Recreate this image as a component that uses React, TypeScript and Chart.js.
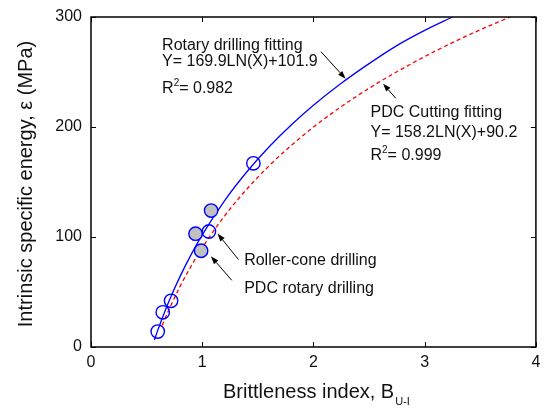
import React, { useEffect, useRef } from 'react';
import { Chart, registerables } from 'chart.js';

Chart.register(...registerables);

// ---- data ----
const xTickValues = [0, 1, 2, 3, 4];
const yTickValues = [0, 100, 200, 300];

// Roller-cone drilling (open circles)
const rollerConeX = [0.6, 0.645, 0.72, 1.06, 1.46];
const rollerConeY = [14, 31.5, 42, 105, 167];
// PDC rotary drilling (filled circles)
const pdcRotaryX = [0.94, 0.99, 1.08];
const pdcRotaryY = [103, 87.5, 124];

// Rotary drilling fitting curve
const rotaryFitX = [0.57, 0.6, 0.7, 0.8, 0.9, 1.0, 1.2, 1.4, 1.6, 1.8, 2.0, 2.25, 2.5, 2.75, 3.0, 3.25];
const rotaryFitY = [6.4, 15.1, 41.3, 64.0, 84.0, 101.9, 132.9, 159.1, 181.8, 201.8, 219.7, 239.7, 257.6, 274.0, 287.8, 300];
// PDC cutting fitting curve
const pdcFitX = [0.64, 0.7, 0.8, 0.9, 1.0, 1.2, 1.4, 1.6, 1.8, 2.0, 2.25, 2.5, 2.75, 3.0, 3.25, 3.5, 3.77];
const pdcFitY = [19.6, 33.8, 54.9, 73.5, 90.2, 119.0, 143.4, 164.6, 183.2, 199.9, 218.5, 235.2, 250.2, 264.0, 276.7, 288.4, 300];

const xTitle = 'Brittleness index, B';
const xTitleSub = 'U-I';
const yTitle = 'Intrinsic specific energy, \u03b5 (MPa)';

// ---- annotations (data coordinates) ----
type Part = { t: string; sup?: boolean };
const textNotes: { x: number; y: number; parts: Part[] }[] = [
  { x: 0.639, y: 270.4, parts: [{ t: 'Rotary drilling fitting' }] },
  { x: 0.639, y: 255.1, parts: [{ t: 'Y= 169.9LN(X)+101.9' }] },
  { x: 0.639, y: 231.0, parts: [{ t: 'R' }, { t: '2', sup: true }, { t: '= 0.982' }] },
  { x: 2.513, y: 209.0, parts: [{ t: 'PDC Cutting fitting' }] },
  { x: 2.513, y: 190.8, parts: [{ t: 'Y= 158.2LN(X)+90.2' }] },
  { x: 2.513, y: 170.1, parts: [{ t: 'R' }, { t: '2', sup: true }, { t: '= 0.999' }] },
  { x: 1.377, y: 74.3, parts: [{ t: 'Roller-cone drilling' }] },
  { x: 1.377, y: 49.1, parts: [{ t: 'PDC rotary drilling' }] },
];
const arrowNotes = [
  { x1: 2.067, y1: 268.5, x2: 2.289, y2: 243.9 },
  { x1: 2.74, y1: 226.1, x2: 2.626, y2: 239.4 },
  { x1: 1.326, y1: 79.5, x2: 1.137, y2: 103.2 },
  { x1: 1.266, y1: 60.6, x2: 1.078, y2: 82.5 },
];

const FONT = "'Liberation Sans', Arial, Helvetica, sans-serif";
const BLUE = '#0000ff';
const RED = '#ff0000';
const TEXT = '#111111';

const toPts = (xs: number[], ys: number[]) => xs.map((v, i) => ({ x: v, y: ys[i] }));

const overlayPlugin = {
  id: 'overlay',
  afterDraw(chart: any) {
    const { ctx, chartArea: a } = chart;
    const xs = chart.scales.x;
    const ys = chart.scales.y;
    ctx.save();
    // frame
    ctx.strokeStyle = '#000';
    ctx.lineWidth = 1.5;
    ctx.strokeRect(a.left, a.top, a.right - a.left, a.bottom - a.top);
    // inward ticks on all sides
    ctx.lineWidth = 1;
    ctx.beginPath();
    for (const v of xTickValues) {
      const px = Math.round(xs.getPixelForValue(v)) + 0.5;
      ctx.moveTo(px, a.bottom);
      ctx.lineTo(px, a.bottom - 5);
      ctx.moveTo(px, a.top);
      ctx.lineTo(px, a.top + 5);
    }
    for (const v of yTickValues) {
      const py = Math.round(ys.getPixelForValue(v)) + 0.5;
      ctx.moveTo(a.left, py);
      ctx.lineTo(a.left + 5, py);
      ctx.moveTo(a.right, py);
      ctx.lineTo(a.right - 5, py);
    }
    ctx.stroke();

    // text notes
    ctx.fillStyle = TEXT;
    ctx.textBaseline = 'alphabetic';
    ctx.textAlign = 'left';
    for (const n of textNotes) {
      let px = xs.getPixelForValue(n.x);
      const py = ys.getPixelForValue(n.y);
      for (const p of n.parts) {
        if (p.sup) {
          ctx.font = `10px ${FONT}`;
          ctx.fillText(p.t, px, py - 7);
        } else {
          ctx.font = `16px ${FONT}`;
          ctx.fillText(p.t, px, py);
        }
        px += ctx.measureText(p.t).width;
      }
    }

    // arrows
    ctx.strokeStyle = '#000';
    ctx.fillStyle = '#000';
    ctx.lineWidth = 1;
    for (const ar of arrowNotes) {
      const x1 = xs.getPixelForValue(ar.x1);
      const y1 = ys.getPixelForValue(ar.y1);
      const x2 = xs.getPixelForValue(ar.x2);
      const y2 = ys.getPixelForValue(ar.y2);
      const ang = Math.atan2(y2 - y1, x2 - x1);
      const len = 8;
      const hw = 2.8;
      const bx = x2 - len * Math.cos(ang);
      const by = y2 - len * Math.sin(ang);
      ctx.beginPath();
      ctx.moveTo(x1, y1);
      ctx.lineTo(bx, by);
      ctx.stroke();
      ctx.beginPath();
      ctx.moveTo(x2, y2);
      ctx.lineTo(bx + hw * Math.sin(ang), by - hw * Math.cos(ang));
      ctx.lineTo(bx - hw * Math.sin(ang), by + hw * Math.cos(ang));
      ctx.closePath();
      ctx.fill();
    }

    // axis titles
    ctx.fillStyle = TEXT;
    ctx.font = `20px ${FONT}`;
    const mainW = ctx.measureText(xTitle).width;
    ctx.font = `11px ${FONT}`;
    const subW = ctx.measureText(xTitleSub).width;
    const cx = (a.left + a.right) / 2 + 2.5;
    const sx = cx - (mainW + subW) / 2;
    ctx.font = `20px ${FONT}`;
    ctx.fillText(xTitle, sx, a.bottom + 50.5);
    ctx.font = `11px ${FONT}`;
    ctx.fillText(xTitleSub, sx + mainW + 1, a.bottom + 58);

    ctx.save();
    ctx.translate(31.5, (a.top + a.bottom) / 2 + 2);
    ctx.rotate(-Math.PI / 2);
    ctx.textAlign = 'center';
    ctx.font = `20px ${FONT}`;
    ctx.fillText(yTitle, 0, 0);
    ctx.restore();

    ctx.restore();
  },
};

export default function App() {
  const ref = useRef<HTMLCanvasElement | null>(null);
  useEffect(() => {
    if (!ref.current) return;
    const chart = new Chart(ref.current, {
      type: 'scatter',
      data: {
        datasets: [
          {
            label: 'PDC rotary drilling',
            data: toPts(pdcRotaryX, pdcRotaryY),
            pointRadius: 6.7,
            pointBorderWidth: 1.4,
            borderColor: BLUE,
            backgroundColor: '#c0c0c0',
            showLine: false,
          },
          {
            label: 'Roller-cone drilling',
            data: toPts(rollerConeX, rollerConeY),
            pointRadius: 6.7,
            pointBorderWidth: 1.4,
            borderColor: BLUE,
            backgroundColor: 'rgba(255,255,255,0)',
            showLine: false,
          },
          {
            label: 'Rotary drilling fitting',
            data: toPts(rotaryFitX, rotaryFitY),
            showLine: true,
            borderColor: BLUE,
            borderWidth: 1.3,
            pointRadius: 0,
            cubicInterpolationMode: 'monotone',
          },
          {
            label: 'PDC Cutting fitting',
            data: toPts(pdcFitX, pdcFitY),
            showLine: true,
            borderColor: RED,
            borderWidth: 1.3,
            borderDash: [4, 3],
            pointRadius: 0,
            cubicInterpolationMode: 'monotone',
          },
        ],
      },
      options: {
        responsive: false,
        animation: false,
        events: [],
        layout: { padding: { left: 0, right: 6, top: 17, bottom: 0 } },
        plugins: { legend: { display: false }, tooltip: { enabled: false }, title: { display: false } },
        scales: {
          x: {
            type: 'linear',
            min: 0,
            max: 4,
            afterFit: (s: any) => { s.height = 63; s.paddingLeft = 0; s.paddingRight = 0; },
            afterBuildTicks: (s: any) => { s.ticks = xTickValues.map((v) => ({ value: v })); },
            ticks: { font: { family: FONT, size: 16 }, color: TEXT, padding: 6, maxRotation: 0 },
            grid: { display: false, drawTicks: false },
            border: { display: false },
          },
          y: {
            type: 'linear',
            min: 0,
            max: 300,
            afterFit: (s: any) => { s.width = 91; s.paddingTop = 0; s.paddingBottom = 0; },
            afterBuildTicks: (s: any) => { s.ticks = yTickValues.map((v) => ({ value: v })); },
            ticks: { font: { family: FONT, size: 16 }, color: TEXT, padding: 9 },
            grid: { display: false, drawTicks: false },
            border: { display: false },
          },
        },
      },
      plugins: [overlayPlugin],
    } as any);
    return () => chart.destroy();
  }, []);
  return (
    <div style={{ position: 'fixed', left: 0, top: 0, width: 544, height: 410, background: '#fff' }}>
      <canvas ref={ref} width={544} height={410} style={{ width: 544, height: 410 }} />
    </div>
  );
}
